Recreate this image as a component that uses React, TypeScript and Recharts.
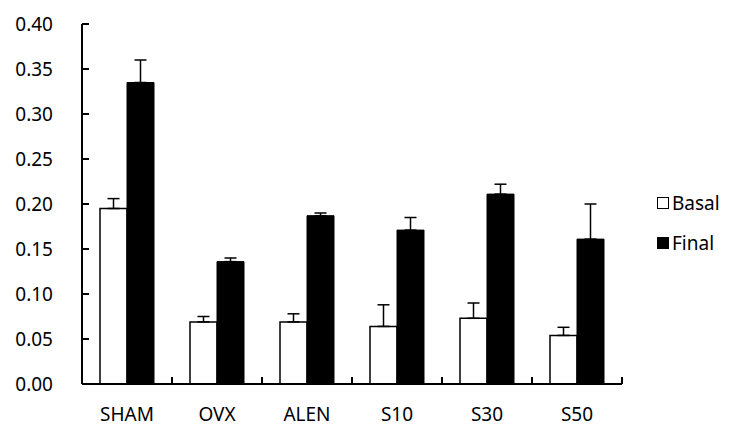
import { BarChart, Bar, XAxis, YAxis, ErrorBar } from 'recharts';

const groups = ['SHAM', 'OVX', 'ALEN', 'S10', 'S30', 'S50'];
const basal = [0.195, 0.069, 0.069, 0.064, 0.073, 0.054];
const basalErr = [0.011, 0.006, 0.009, 0.024, 0.017, 0.009];
const final = [0.335, 0.136, 0.187, 0.171, 0.211, 0.161];
const finalErr = [0.025, 0.004, 0.003, 0.014, 0.011, 0.039];
const yTicks = [0, 0.05, 0.1, 0.15, 0.2, 0.25, 0.3, 0.35, 0.4];

const data = groups.map((name, i) => ({
    name,
    basal: basal[i],
    basalErr: [0, basalErr[i]],
    final: final[i],
    finalErr: [0, finalErr[i]],
}));

const FONT = '"Noto Sans", sans-serif';
const LABEL_GAP = 24;
const PLOT_W = 745 - 82 - 123;

// category label plus small upward tick marks on the band edges
function CategoryTick(props: any) {
    const { x, y, payload } = props;
    const idx = groups.indexOf(payload.value);
    const half = payload.offset ? payload.offset : PLOT_W / groups.length / 2;
    const axisY = y - LABEL_GAP;
    return (
        <g>
            <line x1={x - half} x2={x - half} y1={axisY} y2={axisY - 7} stroke="#000" strokeWidth={2} />
            {idx === groups.length - 1 && (
                <line x1={x + half} x2={x + half} y1={axisY} y2={axisY - 7} stroke="#000" strokeWidth={2} />
            )}
            <text x={x} y={y} dy="0.71em" textAnchor="middle" fill="#000" fontSize={19} fontFamily={FONT}>
                {payload.value}
            </text>
        </g>
    );
}

function LegendBox() {
    const items = [
        { label: 'Basal', fill: '#fff' },
        { label: 'Final', fill: '#000' },
    ];
    return (
        <div
            style={{
                position: 'absolute',
                left: 657,
                top: 183,
                fontFamily: FONT,
                fontSize: 19,
                color: '#000',
            }}
        >
            {items.map((it) => (
                <div key={it.label} style={{ display: 'flex', alignItems: 'center', height: 40 }}>
                    <span
                        style={{
                            display: 'inline-block',
                            width: 10,
                            height: 10,
                            background: it.fill,
                            border: '1px solid #000',
                            marginRight: 3,
                        }}
                    />
                    <span>{it.label}</span>
                </div>
            ))}
        </div>
    );
}

export default function App() {
    return (
        <div style={{ position: 'absolute', left: 0, top: 0, width: 745, height: 441, background: '#fff' }}>
            <BarChart
                width={745}
                height={441}
                data={data}
                margin={{ top: 24, right: 123, left: 0, bottom: 0 }}
                barCategoryGap="20%"
                barGap={0}
            >
                <XAxis
                    dataKey="name"
                    height={57}
                    tickLine={false}
                    tickSize={0}
                    tickMargin={LABEL_GAP}
                    interval={0}
                    axisLine={{ stroke: '#000', strokeWidth: 2 }}
                    tick={<CategoryTick />}
                />
                <YAxis
                    width={82}
                    domain={[0, 0.4]}
                    ticks={yTicks}
                    tickFormatter={(v: number) => v.toFixed(2)}
                    tickSize={-7}
                    tickMargin={36}
                    axisLine={{ stroke: '#000', strokeWidth: 2 }}
                    tickLine={{ stroke: '#000', strokeWidth: 2 }}
                    tick={{ fill: '#000', fontSize: 19, fontFamily: FONT }}
                />
                <Bar dataKey="basal" fill="#fff" stroke="#000" strokeWidth={1.5} isAnimationActive={false}>
                    <ErrorBar dataKey="basalErr" width={6} stroke="#000" strokeWidth={1.5} isAnimationActive={false} />
                </Bar>
                <Bar dataKey="final" fill="#000" stroke="#000" strokeWidth={1} isAnimationActive={false}>
                    <ErrorBar dataKey="finalErr" width={6} stroke="#000" strokeWidth={1.5} isAnimationActive={false} />
                </Bar>
            </BarChart>
            <LegendBox />
        </div>
    );
}
